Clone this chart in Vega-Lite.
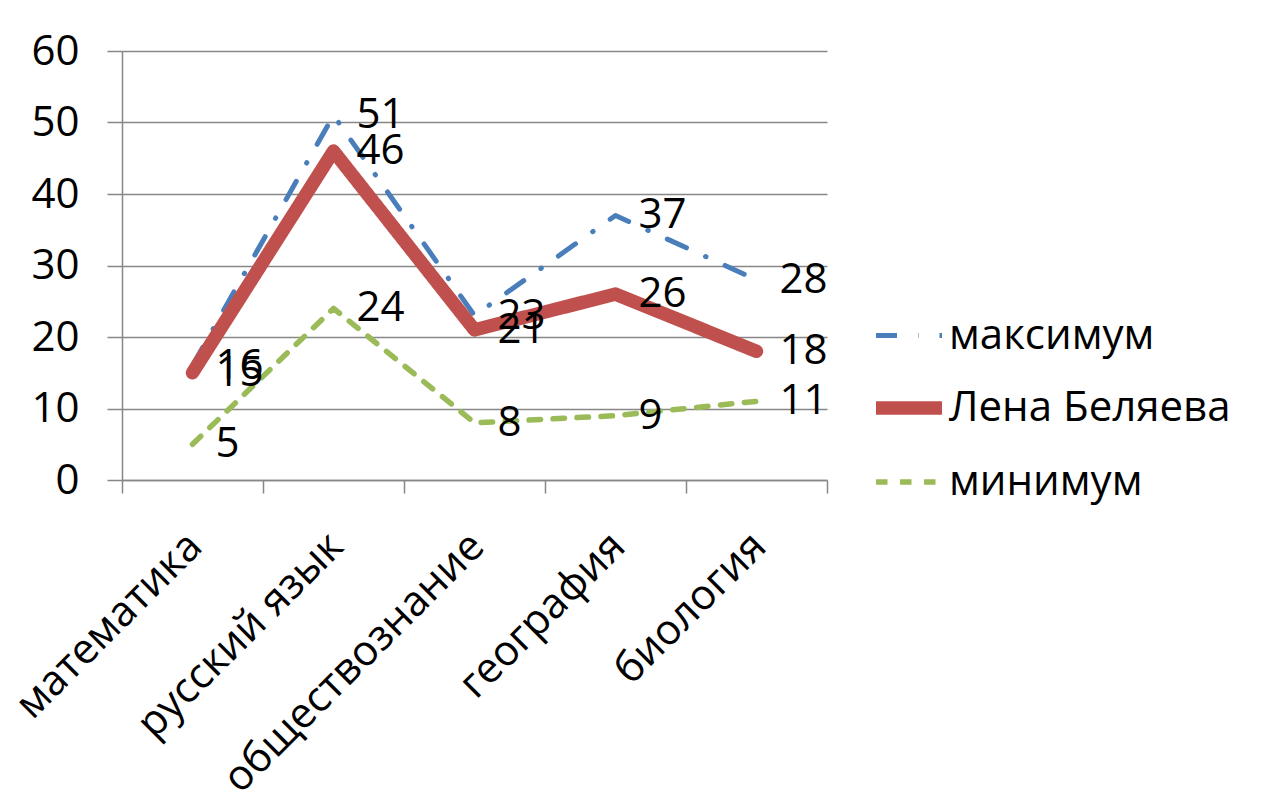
{
  "$schema": "https://vega.github.io/schema/vega-lite/v6.json",
  "autosize": "none",
  "width": 705,
  "height": 429,
  "padding": {"left": 122, "top": 51, "right": 434, "bottom": 327},
  "background": "white",
  "config": {
    "font": "Open Sans",
    "view": {"stroke": null},
    "axis": {"labelFont": "Open Sans", "labelColor": "#000000", "labelFontSize": 42, "labelLimit": 600, "domainColor": "#878787", "tickColor": "#878787", "gridColor": "#878787", "domainWidth": 1.5, "tickWidth": 1.5, "gridWidth": 1.5}
  },
  "data": {
    "values": [
      {"subject": "математика", "series": "максимум", "value": 16},
      {"subject": "русский язык", "series": "максимум", "value": 51},
      {"subject": "обществознание", "series": "максимум", "value": 23},
      {"subject": "география", "series": "максимум", "value": 37},
      {"subject": "биология", "series": "максимум", "value": 28},
      {"subject": "математика", "series": "Лена Беляева", "value": 15},
      {"subject": "русский язык", "series": "Лена Беляева", "value": 46},
      {"subject": "обществознание", "series": "Лена Беляева", "value": 21},
      {"subject": "география", "series": "Лена Беляева", "value": 26},
      {"subject": "биология", "series": "Лена Беляева", "value": 18},
      {"subject": "математика", "series": "минимум", "value": 5},
      {"subject": "русский язык", "series": "минимум", "value": 24},
      {"subject": "обществознание", "series": "минимум", "value": 8},
      {"subject": "география", "series": "минимум", "value": 9},
      {"subject": "биология", "series": "минимум", "value": 11}
    ]
  },
  "encoding": {
    "x": {
      "field": "subject", "type": "nominal", "sort": null,
      "scale": {"type": "band", "paddingInner": 0, "paddingOuter": 0},
      "axis": {"title": null, "labelAngle": -45, "labelAlign": "right", "labelBaseline": "top", "labelOffset": -12, "labelPadding": 32, "tickSize": 13, "tickBand": "extent", "grid": false}
    },
    "y": {
      "field": "value", "type": "quantitative",
      "scale": {"domain": [0, 60], "nice": false},
      "axis": {"title": null, "values": [0, 10, 20, 30, 40, 50, 60], "tickSize": 15, "labelPadding": 28, "grid": true}
    }
  },
  "layer": [
    {
      "mark": {"type": "line", "strokeCap": "round", "strokeJoin": "round"},
      "encoding": {
        "color": {
          "field": "series", "type": "nominal",
          "scale": {"domain": ["максимум", "Лена Беляева", "минимум"], "range": ["#4A7EBB", "#C0504D", "#9BBB59"]},
          "legend": {"title": null, "orient": "none", "legendX": 747, "legendY": 249, "symbolType": "stroke", "symbolSize": 4356, "labelFontSize": 42, "labelColor": "#000000", "labelFont": "Open Sans", "labelOffset": 0, "rowPadding": 11, "padding": 0, "labelLimit": 400}
        },
        "strokeDash": {
          "field": "series", "type": "nominal",
          "scale": {"domain": ["максимум", "Лена Беляева", "минимум"], "range": [[21, 21, 0.5, 21], [1, 0], [11.5, 12.5]]},
          "legend": {"title": null, "orient": "none", "legendX": 747, "legendY": 249, "symbolType": "stroke", "symbolSize": 4356, "labelFontSize": 42, "labelColor": "#000000", "labelFont": "Open Sans", "labelOffset": 0, "rowPadding": 11, "padding": 0, "labelLimit": 400}
        },
        "strokeWidth": {
          "field": "series", "type": "nominal",
          "scale": {"type": "ordinal", "domain": ["максимум", "Лена Беляева", "минимум"], "range": [5, 13.5, 5.5]},
          "legend": {"title": null, "orient": "none", "legendX": 747, "legendY": 249, "symbolType": "stroke", "symbolSize": 4356, "labelFontSize": 42, "labelColor": "#000000", "labelFont": "Open Sans", "labelOffset": 0, "rowPadding": 11, "padding": 0, "labelLimit": 400}
        }
      }
    },
    {
      "mark": {"type": "text", "align": "left", "baseline": "middle", "dx": 23, "fontSize": 42, "font": "Open Sans", "color": "#000000"},
      "encoding": {
        "text": {"field": "value", "type": "quantitative"}
      }
    }
  ]
}
